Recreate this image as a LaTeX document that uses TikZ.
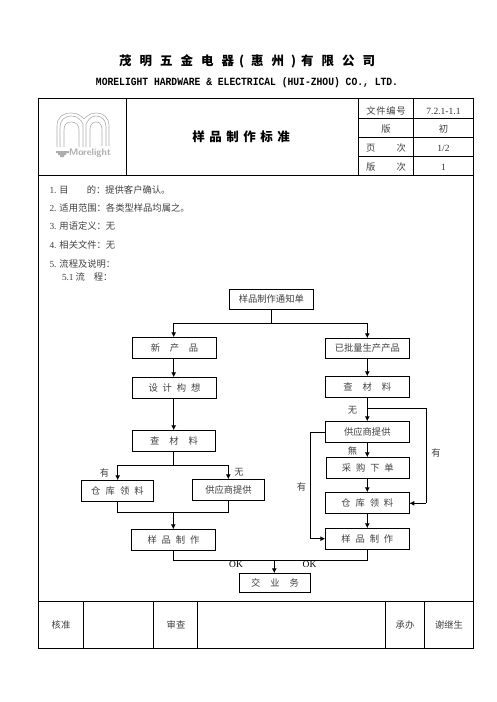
\documentclass[tikz,border=0pt]{standalone}
\usepackage{fontspec}
\setmainfont{Noto Sans CJK SC}
\newfontfamily\latinf{Liberation Serif}
\newfontfamily\monof[FakeStretch=0.88]{Liberation Mono}
\newcommand{\ls}[2]{{\addfontfeature{LetterSpace=#1}#2}}
\usetikzlibrary{arrows.meta}
\definecolor{txt}{gray}{0.25}
\definecolor{logog}{gray}{0.68}
\tikzset{
  every node/.style={inner sep=0pt,outer sep=0pt},
  frameline/.style={line width=0.9pt,black},
  flowbox/.style={draw=black,line width=0.9pt,fill=white,font=\fontsize{9.3}{11}\selectfont,text=txt},
  link/.style={line width=0.9pt,black},
  linkarrow/.style={link,-{Latex[length=5pt,width=5pt]}},
  lab/.style={font=\fontsize{9.3}{11}\selectfont,text=txt},
  bodytext/.style={lab,anchor=west},
  cell/.style={lab,anchor=center},
  num/.style={font=\latinf\fontsize{9.5}{11}\selectfont,text=black!80},
  logoline/.style={draw=logog,line width=0.6pt}
}
\newcommand{\boxat}[7]{\node[flowbox,minimum width=#4 pt-#2 pt,minimum height=#5 pt-#3 pt] (#1) at ({(#2+#4)/2},{(#3+#5)/2}) {#6};}
\begin{document}
\begin{tikzpicture}[x=1pt,y=-1pt]
\useasboundingbox (0,0) rectangle (496,702);
% titles
\node[anchor=west,font=\bfseries\fontsize{12.5}{14}\selectfont] (title) at (119,61.5) {\ls{64}{茂明五金电器}\kern5pt(\kern7pt\ls{64}{惠州}\kern7pt)\kern5pt\ls{64}{有限公司}};
\node[font=\monof\bfseries\fontsize{11}{13}\selectfont] (subtitle) at (247,82.5) {MORELIGHT HARDWARE \& ELECTRICAL (HUI-ZHOU) CO., LTD.};
% frame
\draw[frameline] (38.5,98.7) rectangle (473.5,648);
\draw[frameline] (38.5,175.5) -- (473.5,175.5);
\draw[frameline] (126.5,98.7) -- (126.5,175.5);
\draw[frameline] (358.7,98.7) -- (358.7,175.5);
\draw[frameline] (413.5,98.7) -- (413.5,175.5);
\draw[frameline] (358.7,118.7) -- (473.5,118.7);
\draw[frameline] (358.7,137.7) -- (473.5,137.7);
\draw[frameline] (358.7,156.7) -- (473.5,156.7);
\draw[frameline] (38.5,601.3) -- (473.5,601.3);
\foreach \xx in {83.3,153.3,197.3,385.3,424.3} \draw[frameline] (\xx,601.3) -- (\xx,648);
% logo
\draw[logoline] (57,147) -- (57,126) .. controls (57,117) and (63,113) .. (71,113) .. controls (78,113) and (81,116) .. (84,119) .. controls (87,116) and (90,113) .. (96,113) .. controls (104,113) and (109,118) .. (109,126) -- (109,146);
\draw[logoline] (60,147) -- (60,127) .. controls (60,120) and (65,116) .. (71,116) .. controls (78,116) and (81,120) .. (83,124) -- (83,147);
\draw[logoline] (86,147) -- (86,124) .. controls (88,120) and (91,116) .. (96,116) .. controls (102,116) and (106,120) .. (106,127) -- (106,146);
\draw[logoline] (64,147) -- (64,130) .. controls (64,124) and (67,122) .. (71,122) .. controls (76,122) and (79,125) .. (79,130) -- (79,147);
\draw[logoline] (90,147) -- (90,130) .. controls (90,124) and (93,122) .. (96,122) .. controls (100,122) and (102,125) .. (102,130) -- (102,146);
\fill[logog] (56,151) rectangle (69,153) (58,153) rectangle (66,155) (60,155) rectangle (64,157);
\node[anchor=west,font=\sffamily\bfseries\fontsize{9.5}{11}\selectfont,text=logog] (logotext) at (69,153) {Morelight};
% header
\node[font=\bfseries\fontsize{12.5}{14}\selectfont] (doctitle) at (241,136.5) {\ls{36}{样品制作标准}};
\node[cell] (h1) at (386,111) {\ls{8}{文件编号}};
\node[cell] (h2) at (386,129) {版};
\node[cell] (h3) at (386,148) {页\hspace{21pt}次};
\node[cell] (h4) at (386,167) {版\hspace{21pt}次};
\node[num] (v1) at (443.5,111) {7.2.1-1.1};
\node[cell] (v2) at (443.5,129) {初};
\node[num] (v3) at (443.5,148) {1/2};
\node[num] (v4) at (443.5,167) {1};
% body
\node[bodytext] (b1) at (49.5,189.5) {{\latinf 1.}\hspace{3pt}目\hspace{18pt}的：提供客户确认。};
\node[bodytext] (b2) at (49.5,208) {{\latinf 2.}\hspace{3pt}适用范围：各类型样品均属之。};
\node[bodytext] (b3) at (49.5,226) {{\latinf 3.}\hspace{3pt}用语定义：无};
\node[bodytext] (b4) at (49.5,245) {{\latinf 4.}\hspace{3pt}相关文件：无};
\node[bodytext] (b5) at (49.5,263.5) {{\latinf 5.}\hspace{3pt}流程及说明：};
\node[bodytext] (b6) at (62,277) {{\latinf 5.1}\hspace{2pt}流\hspace{9pt}程：};
% flow boxes
\boxat{notice}{229.3}{289.3}{313.3}{309.3}{样品制作通知单}{}
\boxat{newp}{132.5}{337.3}{216.5}{358.3}{\ls{104}{新产品}}{}
\boxat{design}{132.5}{377.3}{216.5}{398.3}{\ls{53}{设计构想}}{}
\boxat{chkL}{132.5}{430.3}{215.5}{451.3}{\ls{108}{查材料}}{}
\boxat{whL}{81.5}{480.3}{153.5}{501.3}{\ls{55}{仓库领料}}{}
\boxat{supL}{192.3}{479.3}{264.7}{500.3}{供应商提供}{}
\boxat{makeL}{131.5}{529.3}{215.5}{550.3}{\ls{53}{样品制作}}{}
\boxat{biz}{239.3}{573.3}{310.7}{592.7}{\ls{108}{交业务}}{}
\boxat{oldp}{325.3}{338.3}{409.3}{358.3}{已批量生产产品}{}
\boxat{chkR}{325.3}{376.3}{409.3}{397.3}{\ls{108}{查材料}}{}
\boxat{supR}{325.3}{421.3}{409.3}{442.3}{供应商提供}{}
\boxat{buy}{326.3}{457.3}{409.3}{478.3}{\ls{53}{采购下单}}{}
\boxat{whR}{325.3}{492.3}{409.3}{513.3}{\ls{53}{仓库领料}}{}
\boxat{makeR}{325.3}{528.3}{409.3}{549.3}{\ls{53}{样品制作}}{}
% junctions
\coordinate (split) at (notice.south |- 0,323);
\coordinate (splitL) at (173.7,323);
\coordinate (splitR) at (367.3,323);
\coordinate (lsplit) at (173.7,465.3);
\coordinate (lsplitL) at (117.7,465.3);
\coordinate (lsplitR) at (228.3,465.3);
\coordinate (mergeL) at (117.7,512.3);
\coordinate (mergeR) at (228.3,512.3);
\coordinate (mergeC) at (173.3,512.3);
\coordinate (okL) at (173.7,560.3);
\coordinate (okR) at (367.7,560.3);
\coordinate (okC) at (274.3,560.3);
\coordinate (rbranch) at (367.3,408.3);
\coordinate (rbranchT) at (426,408.3);
\coordinate (rbranchB) at (426,503.3);
\coordinate (lbypassT) at (310,432.3);
\coordinate (lbypassB) at (310,538.7);
% connectors
\draw[link] (notice.south) -- (split);
\draw[link] (splitL) -- (splitR);
\draw[linkarrow] (splitL) -- (splitL |- newp.north);
\draw[linkarrow] (splitR) -- (splitR |- oldp.north);
\draw[linkarrow] (splitL |- newp.south) -- (splitL |- design.north);
\draw[linkarrow] (splitL |- design.south) -- (splitL |- chkL.north);
\draw[link] (lsplit |- chkL.south) -- (lsplit);
\draw[link] (lsplitL) -- (lsplitR);
\draw[linkarrow] (lsplitL) -- (lsplitL |- whL.north);
\draw[linkarrow] (lsplitR) -- (lsplitR |- supL.north);
\draw[link] (mergeL |- whL.south) -- (mergeL) -- (mergeR) -- (mergeR |- supL.south);
\draw[linkarrow] (mergeC) -- (mergeC |- makeL.north);
\draw[link] (okL |- makeL.south) -- (okL) -- (okR) -- (okR |- makeR.south);
\draw[linkarrow] (okC) -- (okC |- biz.north);
\draw[linkarrow] (splitR |- oldp.south) -- (splitR |- chkR.north);
\draw[linkarrow] (splitR |- chkR.south) -- (splitR |- supR.north);
\draw[link] (rbranch) -- (rbranchT) -- (rbranchB);
\draw[linkarrow] (rbranchB) -- (rbranchB -| whR.east);
\draw[linkarrow] (splitR |- supR.south) -- (splitR |- buy.north);
\draw[linkarrow] (splitR |- buy.south) -- (splitR |- whR.north);
\draw[linkarrow] (splitR |- whR.south) -- (splitR |- makeR.north);
\draw[link] (lbypassT -| supR.west) -- (lbypassT) -- (lbypassB);
\draw[linkarrow] (lbypassB) -- (lbypassB -| makeR.west);
% labels
\node[lab] (l1) at (104.5,472.5) {有};
\node[lab] (l2) at (239,472) {无};
\node[lab] (l3) at (352.5,410) {无};
\node[lab] (l4) at (352.5,450.5) {無};
\node[lab] (l5) at (436,453) {有};
\node[lab] (l6) at (301.5,487) {有};
\node[font=\latinf\fontsize{9.5}{11}\selectfont] (ok1) at (236,564.5) {OK};
\node[font=\latinf\fontsize{9.5}{11}\selectfont] (ok2) at (309.5,564.5) {OK};
% footer
\node[cell] (f1) at (61,624.5) {核准};
\node[cell] (f2) at (176,624.5) {审查};
\node[cell] (f3) at (405,624.5) {承办};
\node[cell] (f4) at (449,624.5) {谢继生};
\end{tikzpicture}
\end{document}
